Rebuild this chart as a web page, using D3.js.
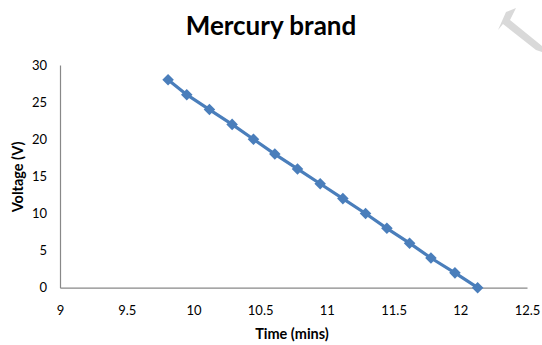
<!DOCTYPE html>
<html><head><meta charset="utf-8">
<script src="https://cdn.jsdelivr.net/npm/d3@7"></script>
<style>body{margin:0;background:#fff}svg{display:block}</style>
</head><body>
<script>
const title = "Mercury brand";
const xLabel = "Time (mins)";
const yLabel = "Voltage (V)";
const timeValues = [9.81, 9.95, 10.12, 10.29, 10.45, 10.61, 10.78, 10.95, 11.12, 11.29, 11.45, 11.62, 11.78, 11.96, 12.13];
const voltageValues = [28, 26, 24, 22, 20, 18, 16, 14, 12, 10, 8, 6, 4, 2, 0];
const xTicks = [9, 9.5, 10, 10.5, 11, 11.5, 12, 12.5];
const yTicks = [0, 5, 10, 15, 20, 25, 30];

const W = 542, H = 345;
const m = {left: 60, right: 15, top: 65, bottom: 57};
const svg = d3.select("body").append("svg").attr("width", W).attr("height", H);
const font = "Lato, 'Open Sans', sans-serif";

// faint watermark fragment
svg.append("path").attr("d", "M506,12 L516,8 L510,20 L542,46 L542,52 L536,50 L503,24 L498,30 Z")
  .attr("fill", "#d9d9d9");

const x = d3.scaleLinear().domain([9, 12.5]).range([m.left, W - m.right]);
const y = d3.scaleLinear().domain([0, 30]).range([H - m.bottom - 0.3, m.top]);

svg.append("text").attr("x", 271).attr("y", 35).attr("text-anchor", "middle")
  .attr("font-family", font).attr("font-weight", "bold").attr("font-size", 26).attr("fill", "#000").text(title);

const gx = svg.append("g").attr("transform", `translate(0,${y(0)})`)
  .call(d3.axisBottom(x).tickValues(xTicks).tickSize(0).tickPadding(18).tickFormat(d3.format("")));
const gy = svg.append("g").attr("transform", `translate(${m.left},0)`)
  .call(d3.axisLeft(y).tickValues(yTicks).tickSize(0).tickPadding(13));
[gx, gy].forEach(g => {
  g.select(".domain").attr("stroke", "#888").attr("stroke-width", 1.2);
  g.selectAll("text").attr("font-family", font).attr("font-size", 13).attr("fill", "#000");
});

svg.append("text").attr("x", 292).attr("y", 339).attr("text-anchor", "middle")
  .attr("font-family", font).attr("font-weight", "bold").attr("font-size", 14.5).text(xLabel);
svg.append("text").attr("transform", `translate(23,${177}) rotate(-90)`).attr("text-anchor", "middle")
  .attr("font-family", font).attr("font-weight", "bold").attr("font-size", 14.5).text(yLabel);

const pts = timeValues.map((t, i) => [t, voltageValues[i]]);
const color = "#4a7ebb";
svg.append("path").datum(pts)
  .attr("d", d3.line().x(d => x(d[0])).y(d => y(d[1])))
  .attr("fill", "none").attr("stroke", color).attr("stroke-width", 3.2).attr("stroke-linejoin", "round");
svg.selectAll(".pt").data(pts).join("path").attr("class", "pt")
  .attr("transform", d => `translate(${x(d[0])},${y(d[1])})`)
  .attr("d", d3.symbol(d3.symbolDiamond2, 85)())
  .attr("fill", color);
</script>
</body></html>
